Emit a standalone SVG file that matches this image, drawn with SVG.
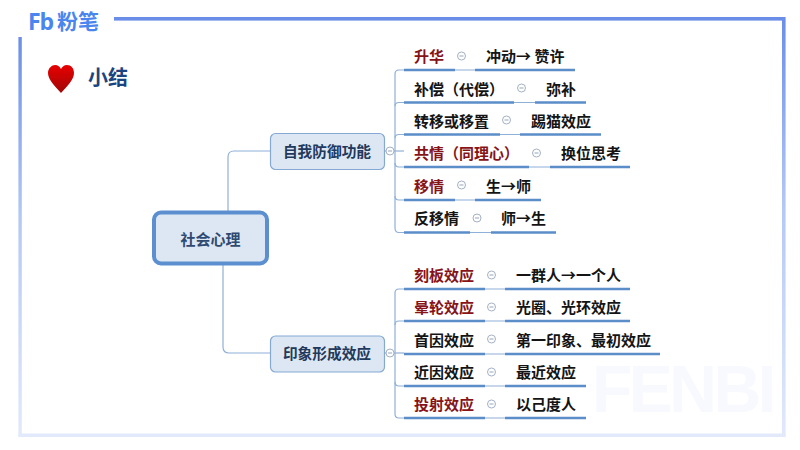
<svg xmlns="http://www.w3.org/2000/svg" width="800" height="450" viewBox="0 0 800 450">
<defs>
<linearGradient id="fr" x1="0" y1="0" x2="0" y2="1"><stop offset="0" stop-color="#6a8ee8"/><stop offset="0.45" stop-color="#b4c8f5"/><stop offset="1" stop-color="#e2e9fb"/></linearGradient>
<linearGradient id="heart" x1="0" y1="0" x2="0" y2="1"><stop offset="0" stop-color="#e80000"/><stop offset="1" stop-color="#a00808"/></linearGradient>
</defs>
<style>
text{font-family:"Noto Sans CJK SC","Noto Sans",sans-serif}
.t{font-size:15px;font-weight:700;fill:#141414}
.r{fill:#861317}
.n{font-size:14.7px;font-weight:700;fill:#22395c;text-anchor:middle}
.u{stroke:#5b8dc9;stroke-width:2.4;fill:none}
.c{stroke:#8fb0d8;stroke-width:1.2;fill:none}
.o{fill:#fff;stroke:#a3b2c6;stroke-width:1}
.d{stroke:#8c9bb0;stroke-width:0.9}
.box{fill:#dde7f3;stroke:#86a9d4;stroke-width:1.2}
</style>
<rect width="800" height="450" fill="#fff"/>
<g id="frame">
<text x="592" y="412" font-size="66" font-weight="700" fill="#f8f9fe" style="font-family:'Liberation Sans',sans-serif" textLength="184">FENBI</text>
<rect x="114" y="17" width="671" height="3.600" fill="#6a8ee8"/>
<rect x="782" y="17" width="3.600" height="420" fill="url(#fr)"/>
<rect x="18.400" y="37" width="3.400" height="400" fill="url(#fr)"/>
<rect x="18.400" y="433.500" width="767" height="3.500" fill="#e2e9fa"/>
</g>
<g id="logo">
<text x="28" y="30" font-size="23" font-weight="700" fill="#4a86ee" style="font-family:'Open Sans',sans-serif" textLength="26">Fb</text>
<text x="57" y="28.500" font-size="21" font-weight="700" fill="#4a86ee">粉笔</text>
</g>
<g id="title">
<path d="M61 93C55 86 48 80 48 73C48 68 52 65 55 65C58 65 60 67 61 69C62 67 64 65 67 65C71 65 74 68 74 73C74 80 67 86 61 93Z" fill="url(#heart)"/>
<text x="88" y="85" font-size="20" font-weight="700" fill="#1b4580">小结</text>
</g>
<g id="connectors">
<path class="c" d="M228 212V157Q228 151 234 151H270"/>
<path class="c" d="M223 264V347Q223 353 229 353H270"/>
<path class="c" d="M384 151H404"/>
<path class="c" d="M384 353H404"/>
<path class="c" d="M404 70H399Q395 70 395 74V228Q395 232.500 399 232.500H404"/>
<path class="c" d="M395 106Q395 102.500 399 102.500H404M395 138Q395 134.500 399 134.500H404M395 163Q395 167 399 167H404M395 196Q395 200 399 200H404"/>
<path class="c" d="M404 289H399Q395 289 395 293V414Q395 418 399 418H404"/>
<path class="c" d="M395 325Q395 321 399 321H404M395 382Q395 386 399 386H404"/>
<path class="c" d="M455 70H475M514 102.500H535M500 134.500H520M529 167H550M455 200H475M470 232.500H491M485 289H505M485 321H505M485 354H505M485 386H505M485 418H505"/>
</g>
<g id="root"><rect x="154" y="212.500" width="113" height="51" rx="7" fill="#dde7f3" stroke="#5b8fd0" stroke-width="4"/><text class="n" x="210.500" y="244.500" style="font-size:15px;fill:#2f4a70">社会心理</text></g>
<g id="n1"><rect class="box" x="270.500" y="133.500" width="114" height="36" rx="5"/><text class="n" x="327" y="157">自我防御功能</text></g>
<g id="n2"><rect class="box" x="270.500" y="336" width="114" height="36" rx="5"/><text class="n" x="327" y="359">印象形成效应</text></g>
<g id="toggles">
<circle class="o" cx="390" cy="151" r="4"/><circle class="o" cx="390" cy="353" r="4"/>
<path class="d" d="M388 151h4M388 353h4"/>
</g>
<g id="rows">
<g id="r1"><path class="u" d="M404 70H455M475 70H575"/><text class="t r" x="414" y="62">升华</text><circle class="o" cx="461.500" cy="56" r="4"/><path class="d" d="M459.500 56h4"/><text class="t" x="486" y="62">冲动→ 赞许</text></g>
<g id="r2"><path class="u" d="M404 102.500H514M535 102.500H586"/><text class="t" x="414" y="95">补偿（代偿）</text><circle class="o" cx="521.500" cy="88" r="4"/><path class="d" d="M519.500 88h4"/><text class="t" x="546" y="95">弥补</text></g>
<g id="r3"><path class="u" d="M404 134.500H500M520 134.500H601"/><text class="t" x="414" y="127">转移或移置</text><circle class="o" cx="506.500" cy="120" r="4"/><path class="d" d="M504.500 120h4"/><text class="t" x="531" y="127">踢猫效应</text></g>
<g id="r4"><path class="u" d="M404 167H529M550 167H630"/><text class="t r" x="414" y="159">共情（同理心）</text><circle class="o" cx="536.500" cy="153" r="4"/><path class="d" d="M534.500 153h4"/><text class="t" x="561" y="159">换位思考</text></g>
<g id="r5"><path class="u" d="M404 200H455M475 200H541"/><text class="t r" x="414" y="192">移情</text><circle class="o" cx="461.500" cy="185" r="4"/><path class="d" d="M459.500 185h4"/><text class="t" x="486" y="192">生→师</text></g>
<g id="r6"><path class="u" d="M404 232.500H470M491 232.500H556"/><text class="t" x="414" y="224">反移情</text><circle class="o" cx="477" cy="218" r="4"/><path class="d" d="M475 218h4"/><text class="t" x="501" y="224">师→生</text></g>
<g id="r7"><path class="u" d="M404 289H485M505 289H630"/><text class="t r" x="414" y="281">刻板效应</text><circle class="o" cx="491.500" cy="275" r="4"/><path class="d" d="M489.500 275h4"/><text class="t" x="516" y="281">一群人→一个人</text></g>
<g id="r8"><path class="u" d="M404 321H485M505 321H630"/><text class="t r" x="414" y="313">晕轮效应</text><circle class="o" cx="491.500" cy="307" r="4"/><path class="d" d="M489.500 307h4"/><text class="t" x="516" y="313">光圈、光环效应</text></g>
<g id="r9"><path class="u" d="M404 354H485M505 354H660"/><text class="t" x="414" y="346">首因效应</text><circle class="o" cx="491.500" cy="339" r="4"/><path class="d" d="M489.500 339h4"/><text class="t" x="516" y="346">第一印象、最初效应</text></g>
<g id="r10"><path class="u" d="M404 386H485M505 386H586"/><text class="t" x="414" y="378">近因效应</text><circle class="o" cx="491.500" cy="372" r="4"/><path class="d" d="M489.500 372h4"/><text class="t" x="516" y="378">最近效应</text></g>
<g id="r11"><path class="u" d="M404 418H485M505 418H586"/><text class="t r" x="414" y="410">投射效应</text><circle class="o" cx="491.500" cy="404" r="4"/><path class="d" d="M489.500 404h4"/><text class="t" x="516" y="410">以己度人</text></g>
</g>
</svg>
